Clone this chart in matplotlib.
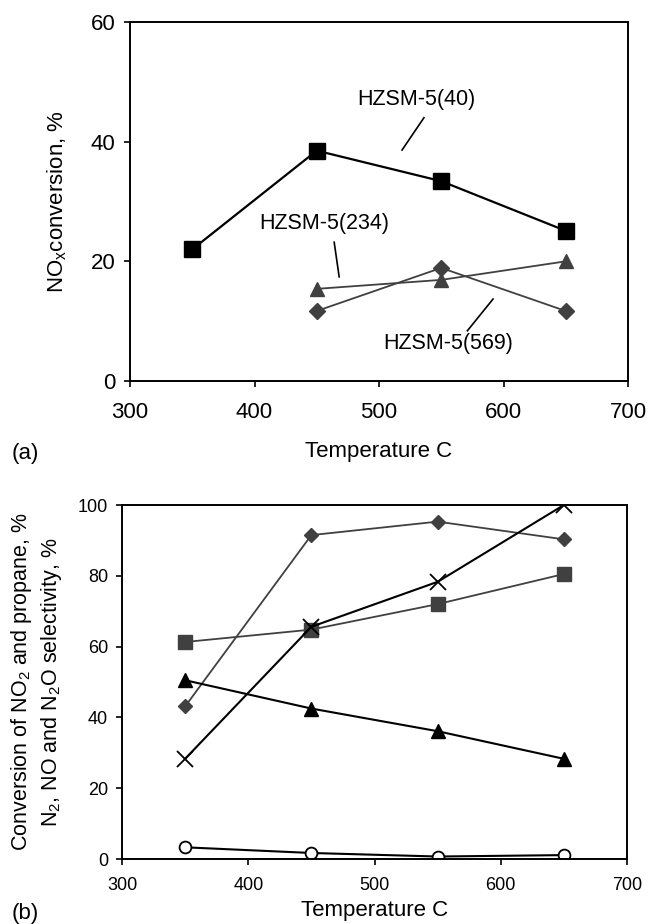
import matplotlib
matplotlib.use("Agg")
import matplotlib.pyplot as plt

plt.rcParams["font.family"] = ["Liberation Sans", "DejaVu Sans"]
plt.rcParams["mathtext.fontset"] = "custom"
plt.rcParams["mathtext.rm"] = "Liberation Sans"
plt.rcParams["mathtext.it"] = "Liberation Sans"
plt.rcParams["mathtext.default"] = "rm"

# (a) NOx conversion vs temperature
temp_a40 = [350, 450, 550, 650]
nox_40 = [22.0, 38.5, 33.4, 25.1]
temp_a = [450, 550, 650]
nox_234 = [15.4, 16.9, 20.0]
nox_569 = [11.7, 18.9, 11.7]

# (b) conversion / selectivity vs temperature
temp_b = [350, 450, 550, 650]
b_diamond = [43.1, 91.5, 95.3, 90.3]
b_square = [61.3, 64.8, 72.0, 80.5]
b_cross = [28.3, 65.6, 78.3, 100.0]
b_triangle = [50.5, 42.5, 36.1, 28.3]
b_circle = [3.3, 1.7, 0.7, 1.1]

gray = "#404040"

fig = plt.figure(figsize=(6.48, 9.24), dpi=100)
ax1 = fig.add_axes([130 / 648, 1 - 381 / 924, 498 / 648, 359 / 924])
ax2 = fig.add_axes([122 / 648, 1 - 859 / 924, 505 / 648, 354 / 924])

# ---- panel (a)
ax1.plot(temp_a40, nox_40, color="black", lw=1.6, marker="s", ms=11)
ax1.plot(temp_a, nox_234, color=gray, lw=1.3, marker="^", ms=10)
ax1.plot(temp_a, nox_569, color=gray, lw=1.3, marker="D", ms=8.5)

ax1.set_xlim(300, 700)
ax1.set_ylim(0, 60)
ax1.set_xticks([300, 400, 500, 600, 700])
ax1.set_yticks([0, 20, 40, 60])
ax1.tick_params(labelsize=16, direction="out", length=4, width=1.2)
ax1.tick_params(axis="x", pad=11)
ax1.tick_params(axis="y", pad=6.5)
ax1.set_xlabel("Temperature C", fontsize=16, labelpad=13)
ax1.set_ylabel("NO$_x$conversion, %", fontsize=16)
ax1.yaxis.set_label_coords(-0.1225, 0.5)

fs_note = 15.5
ax1.text(529.7, 47.0, "HZSM-5(40)", fontsize=fs_note, ha="center", va="center")
ax1.plot([536.1, 518.5], [44.0, 38.6], color="black", lw=1.2)
ax1.text(456.4, 26.4, "HZSM-5(234)", fontsize=fs_note, ha="center", va="center")
ax1.plot([464, 468], [23.2, 17.4], color="black", lw=1.2)
ax1.text(555.2, 6.3, "HZSM-5(569)", fontsize=fs_note, ha="center", va="center")
ax1.plot([591.6, 571], [13.7, 8.4], color="black", lw=1.2)

fig.text(25 / 648, 1 - 453 / 924, "(a)", fontsize=16, ha="center", va="center")

# ---- panel (b)
ax2.plot(temp_b, b_diamond, color=gray, lw=1.3, marker="D", ms=7.5)
ax2.plot(temp_b, b_square, color=gray, lw=1.3, marker="s", ms=10)
ax2.plot(temp_b, b_cross, color="black", lw=1.5, marker="x", ms=11, mew=1.3)
ax2.plot(temp_b, b_triangle, color="black", lw=1.5, marker="^", ms=9.5)
ax2.plot(temp_b, b_circle, color="black", lw=1.5, marker="o", ms=8.5,
         mfc="white", mew=1.3)

ax2.set_xlim(300, 700)
ax2.set_ylim(0, 100)
ax2.set_xticks([300, 400, 500, 600, 700])
ax2.set_yticks([0, 20, 40, 60, 80, 100])
ax2.tick_params(labelsize=13, direction="out", length=4, width=1.2)
ax2.tick_params(axis="x", pad=9)
ax2.tick_params(axis="y", pad=6)
ax2.set_xlabel("Temperature C", fontsize=16, labelpad=4)
ax2.set_ylabel("Conversion of NO$_2$ and propane, %\nN$_2$, NO and N$_2$O selectivity, %",
               fontsize=15.5, linespacing=1.3)
ax2.yaxis.set_label_coords(-0.115, 0.5)

fig.text(25 / 648, 1 - 913 / 924, "(b)", fontsize=16, ha="center", va="center")

for ax in (ax1, ax2):
    for sp in ax.spines.values():
        sp.set_linewidth(1.4)

fig.savefig("out.png", dpi=100)
